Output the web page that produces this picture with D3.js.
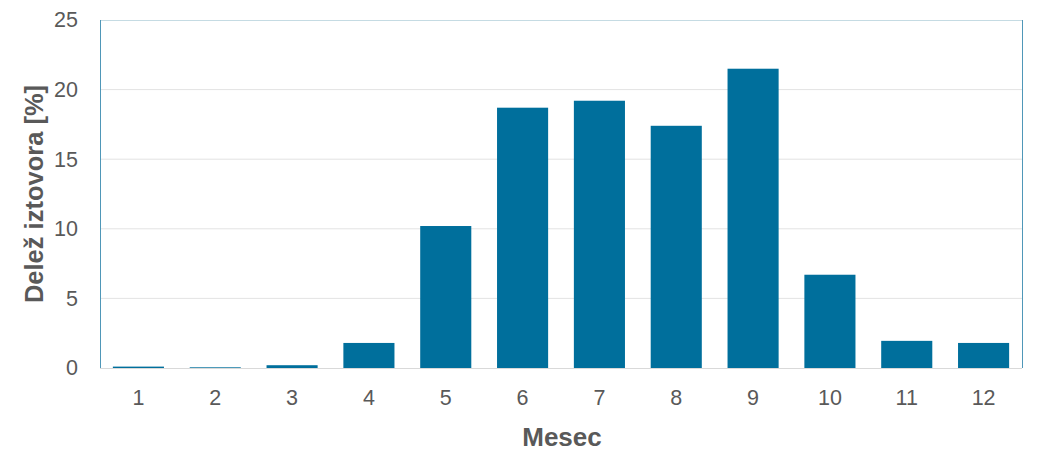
<!DOCTYPE html>
<html><head><meta charset="utf-8">
<script src="https://cdn.jsdelivr.net/npm/d3@7"></script>
<style>body{margin:0;background:#fff}svg text{font-family:"Liberation Sans",Arial,sans-serif}</style>
</head><body><svg id="c" width="1039" height="463"></svg>
<script>
const months = ["1","2","3","4","5","6","7","8","9","10","11","12"];
const shares = [0.1,0.05,0.2,1.8,10.2,18.7,19.2,17.4,21.5,6.7,1.95,1.8];
const yTicks = [0,5,10,15,20,25];

const svg = d3.select("#c");
const m = {l:100,r:1022,t:20,b:368};
const x = d3.scaleBand().domain(months).range([m.l,m.r]).paddingInner(0.335).paddingOuter(0.1675);
const y = d3.scaleLinear().domain([0,25]).range([m.b,m.t]);

svg.append("g").selectAll("line").data(yTicks.filter(d=>d>0&&d<25)).join("line")
  .attr("x1",m.l).attr("x2",m.r).attr("y1",d=>y(d)).attr("y2",d=>y(d))
  .attr("stroke","#e3e3e3").attr("stroke-width",1);

svg.append("g").selectAll("rect").data(shares).join("rect")
  .attr("x",(d,i)=>x(months[i])).attr("width",x.bandwidth())
  .attr("y",d=>y(d)).attr("height",d=>y(0)-y(d)).attr("fill","#006f9c");

// frame
svg.append("line").attr("x1",m.l).attr("x2",m.r).attr("y1",m.t+0.5).attr("y2",m.t+0.5).attr("stroke","#c5dbe3");
svg.append("line").attr("x1",m.l+0.5).attr("x2",m.l+0.5).attr("y1",m.t).attr("y2",m.b).attr("stroke","#4f97b8");
svg.append("line").attr("x1",m.r+0.5).attr("x2",m.r+0.5).attr("y1",m.t).attr("y2",m.b).attr("stroke","#4f97b8");
svg.append("line").attr("x1",m.l).attr("x2",m.r).attr("y1",m.b+0.5).attr("y2",m.b+0.5).attr("stroke","#d9d9d9");

const yAx = svg.append("g").attr("transform",`translate(${m.l},0)`)
  .call(d3.axisLeft(y).tickValues(yTicks).tickSize(0).tickPadding(22));
yAx.select(".domain").remove();
yAx.selectAll("text").attr("font-size",21.5).attr("fill","#595959").attr("font-family","Liberation Sans, Arial, sans-serif");

const xAx = svg.append("g").attr("transform",`translate(0,${m.b})`)
  .call(d3.axisBottom(x).tickSize(0).tickPadding(22));
xAx.select(".domain").remove();
xAx.selectAll("text").attr("font-size",21.5).attr("fill","#595959").attr("font-family","Liberation Sans, Arial, sans-serif");

svg.append("text").attr("x",(m.l+m.r)/2+1).attr("y",446).attr("text-anchor","middle")
  .attr("font-size",26).attr("font-weight","bold").attr("fill","#595959").text("Mesec");
svg.append("text").attr("transform",`translate(43,${(m.t+m.b)/2}) rotate(-90)`).attr("text-anchor","middle")
  .attr("font-size",25.5).attr("font-weight","bold").attr("fill","#595959").text("Delež iztovora [%]");
</script></body></html>
